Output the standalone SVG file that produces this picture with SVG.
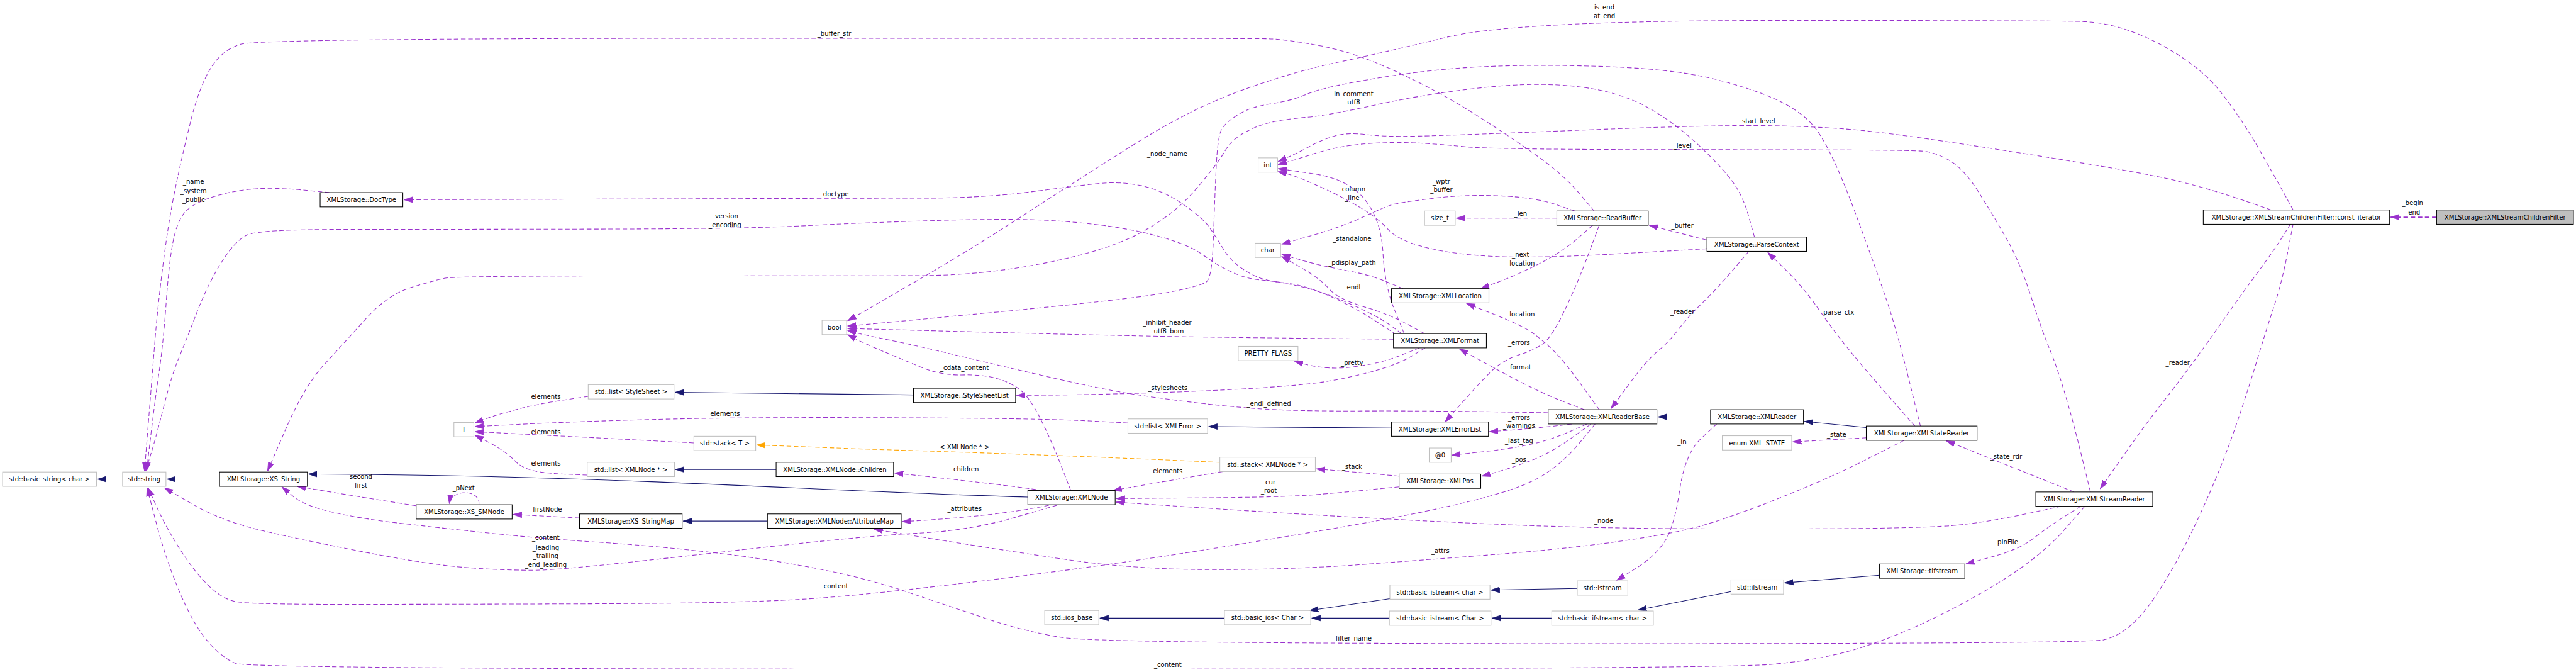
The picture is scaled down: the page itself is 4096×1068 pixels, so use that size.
<svg xmlns="http://www.w3.org/2000/svg" width="4096" height="1068" viewBox="0 0 4096 1068">
<style>
text{font-family:"DejaVu Sans","Liberation Sans",sans-serif;font-size:12.5px;text-anchor:middle;fill:#000}
.e{fill:none;stroke:#9a32cd;stroke-width:1.3;stroke-dasharray:9,5}
.eb{fill:none;stroke:#9a32cd;stroke-width:2.2;stroke-dasharray:9,5}
.i{fill:none;stroke:#191970;stroke-width:1.3}
.o{fill:none;stroke:#ffa500;stroke-width:1.3;stroke-dasharray:9,5}
.n rect{fill:#fff;stroke:#000;stroke-width:1.3}
.g rect{fill:#fff;stroke:#bfbfbf;stroke-width:1.3}
.e,.eb{marker-end:url(#aP)}
.i{marker-end:url(#aN)}
.o{marker-end:url(#aO)}
</style>
<defs>
<marker id="aP" markerUnits="userSpaceOnUse" markerWidth="18" markerHeight="13" refX="17" refY="6.5" orient="auto"><path d="M0,1 L17,6.5 L0,12 z" fill="#9a32cd" stroke="#9a32cd" stroke-width="1"/></marker>
<marker id="aN" markerUnits="userSpaceOnUse" markerWidth="18" markerHeight="13" refX="17" refY="6.5" orient="auto"><path d="M0,1 L17,6.5 L0,12 z" fill="#191970" stroke="#191970" stroke-width="1"/></marker>
<marker id="aO" markerUnits="userSpaceOnUse" markerWidth="18" markerHeight="13" refX="17" refY="6.5" orient="auto"><path d="M0,1 L17,6.5 L0,12 z" fill="#ffa500" stroke="#ffa500" stroke-width="1"/></marker>
</defs>
<rect x="0" y="0" width="4096" height="1068" fill="#fff"/>
<g transform="scale(0.8119)">
<g id="edges">
<path class="eb" d="M4772,425 L4682,425"/>
<path class="e" d="M4491,411 L4472,376.5 Q4453,342 4421,286.5 Q4389,231 4348.5,179.5 Q4308,128 4229,86 Q4150,44 4075,42 Q4000,40 3485,40 Q2970,40 2835,72.5 Q2700,105 2615,123 Q2530,141 2430,177.5 Q2330,214 2222,282 Q2114,350 2005.5,420.5 Q1897,491 1798.5,548 Q1700,605 1680,616.5 L1660,628"/>
<path class="e" d="M4448,411 L4391.5,391.5 Q4335,372 4267.5,355 Q4200,338 3969.5,301.5 Q3739,265 3658,256.5 Q3577,248 3468.5,246 Q3360,244 3102.5,254.5 Q2845,265 2777.5,266.5 Q2710,268 2674.5,263.5 Q2639,259 2614.5,266 Q2590,273 2565,286.5 Q2540,300 2521.5,308 L2503,316"/>
<path class="e" d="M4094,963 L4076.5,891.5 Q4059,820 4043,767 Q4027,714 4013.5,682 Q4000,650 3978,581.5 Q3956,513 3929,466 Q3902,419 3875,376 Q3848,333 3821,316 Q3794,299 3767,296 Q3740,293 3333,293 Q2926,293 2872,287.5 Q2818,282 2777.5,280 Q2737,278 2696,280 Q2655,282 2622.5,288.5 Q2590,295 2565,303.5 Q2540,312 2521.5,317 L2503,322"/>
<path class="e" d="M4486,438 L4469.5,464.5 Q4453,491 4421,534 Q4389,577 4356.5,623.5 Q4324,670 4294.5,710 Q4265,750 4232.5,791.5 Q4200,833 4156.5,895 L4113,957"/>
<path class="e" d="M4491,438 L4480,495.5 Q4469,553 4453,601.5 Q4437,650 4421,703 Q4405,756 4383.5,820 Q4362,884 4335,947.5 Q4308,1011 4281,1064 Q4254,1117 4227,1158.5 Q4200,1200 4175,1222.5 Q4150,1245 4120,1252.5 Q4090,1260 3123.5,1260 Q2157,1260 2081,1248 Q2005,1236 1924,1208.5 Q1843,1181 1766.5,1155.5 Q1690,1130 1590,1111 Q1490,1092 1382,1080 Q1274,1068 1165.5,1061 Q1057,1054 953.5,1043 Q850,1032 777.5,1023.5 Q705,1015 650.5,1002.5 Q596,990 574,971.5 L552,953"/>
<path class="e" d="M4062,963 L3812,863"/>
<path class="e" d="M4075,991 L4042.5,1011.5 Q4010,1032 3983,1053.5 Q3956,1075 3903,1089.5 L3850,1104"/>
<path class="e" d="M4083,991 L4046.5,1033 Q4010,1075 3956,1113 Q3902,1151 3820.5,1193.5 Q3739,1236 3658,1263.5 Q3577,1291 3468.5,1300.5 Q3360,1310 1924,1310 Q488,1310 461,1298.5 Q434,1287 406.5,1255 Q379,1223 352,1159.5 Q325,1096 306.5,1025.5 L288,955"/>
<path class="e" d="M4037,991 L3969.5,1005.5 Q3902,1020 3842.5,1027 Q3783,1034 3571.5,1035 Q3360,1036 3211,1034 Q3062,1032 2926.5,1026 Q2791,1020 2655.5,1012.5 Q2520,1005 2353,994 L2186,983"/>
<path class="e" d="M3750,834 L3700,777 Q3650,720 3621.5,685 Q3593,650 3561.5,605 Q3530,560 3496,527 L3462,494"/>
<path class="e" d="M3655,857 L3511,865"/>
<path class="e" d="M3761,834 L3739.5,747 Q3718,660 3701.5,608 Q3685,556 3636,423.5 Q3587,291 3554.5,250 Q3522,209 3446,181.5 Q3370,154 3297.5,143 Q3225,132 3103,129 Q2981,126 2886,131.5 Q2791,137 2690.5,154 Q2590,171 2560,184 Q2530,197 2490,203 Q2450,209 2425.5,224 Q2401,239 2393,252 Q2385,265 2382,325 Q2379,385 2376.5,464 Q2374,543 2363,551.5 Q2352,560 2287,572.5 Q2222,585 1961,610 Q1700,635 1680,636.5 L1660,638"/>
<path class="e" d="M3729,862 L3653,900.5 Q3577,939 3473.5,979.5 Q3370,1020 3316,1033.5 Q3262,1047 3162,1061 Q3062,1075 2926.5,1085.5 Q2791,1096 2660.5,1105.5 Q2530,1115 2376,1115 Q2222,1115 2086.5,1095 Q1951,1075 1831.5,1055.5 L1712,1036"/>
<path class="e" d="M3362,830 L3331,859 Q3300,888 3289.5,960 Q3279,1032 3259.5,1061 Q3240,1090 3203,1113 L3166,1136"/>
<path class="e" d="M3425,492 L3392.5,530 Q3360,568 3333,594 Q3306,620 3287,645 Q3268,670 3246.5,687.5 Q3225,705 3190,752.5 L3155,800"/>
<path class="e" d="M3103,802 L3055.5,783.5 Q3008,765 2933,724 L2858,683"/>
<path class="e" d="M3078,830 Q3008,839 2917,845"/>
<path class="e" d="M3108,830 L3071.5,846 Q3035,862 2994.5,870.5 Q2954,879 2898.5,885 L2843,891"/>
<path class="e" d="M3116,830 L3075.5,859 Q3035,888 2994.5,903 Q2954,918 2928,925 L2902,932"/>
<path class="e" d="M3124,830 L3093,867.5 Q3062,905 3021.5,930.5 Q2981,956 2886,979.5 Q2791,1003 2660.5,1026 Q2530,1049 2349,1078 Q2168,1107 1929,1136.5 Q1690,1166 1563,1173.5 Q1436,1181 1143,1182 Q850,1183 669,1183 Q488,1183 461,1177.5 Q434,1172 406.5,1144.5 Q379,1117 352,1074.5 Q325,1032 307.5,993.5 L290,955"/>
<path class="e" d="M3032,808 L2911.5,806 Q2791,804 2660.5,804.5 Q2530,805 2457.5,799.5 Q2385,794 2303.5,783.5 Q2222,773 2168,762.5 Q2114,752 2032.5,733 Q1951,714 1869.5,694.5 Q1788,675 1739,665 Q1690,655 1675,651 L1660,647"/>
<path class="e" d="M3132,802 L3097,753.5 Q3062,705 3041,685 Q3020,665 3000.5,651 Q2981,637 2926.5,615.5 L2872,594"/>
<path class="e" d="M3132,441 L3110.5,498.5 Q3089,556 3064.5,607 Q3040,658 3024,671 Q3008,684 2975.5,694.5 Q2943,705 2921,726.5 Q2899,748 2864.5,787 L2830,826"/>
<path class="e" d="M3119,441 L3090.5,466 Q3062,491 3021.5,512.5 Q2981,534 2940.5,549.5 L2900,565"/>
<path class="e" d="M3343,487 L3175.5,496.5 Q3008,506 2926.5,502 Q2845,498 2791,484 Q2737,470 2718,448.5 Q2699,427 2663.5,406 Q2628,385 2584,365 Q2540,345 2521.5,340.5 L2503,336"/>
<path class="e" d="M3084,413 L3046,400 Q3008,387 2940,383.5 Q2872,380 2804.5,388.5 Q2737,397 2723.5,401.5 Q2710,406 2669,425 Q2628,444 2569,461 L2510,478"/>
<path class="e" d="M3049,427 L2852,427"/>
<path class="e" d="M3343,470 L3230,441"/>
<path class="e" d="M2748,565 L2715.5,551.5 Q2683,538 2636.5,529.5 Q2590,521 2550,509.5 L2510,498"/>
<path class="e" d="M2750,653 L2731,606.5 Q2712,560 2708.5,495 Q2705,430 2672.5,390 Q2640,350 2571.5,340 L2503,330"/>
<path class="e" d="M2790,653 L2755,634 Q2720,615 2670,600 Q2620,585 2602.5,565 Q2585,545 2547.5,523.5 L2510,502"/>
<path class="e" d="M2729,664 L2629.5,663 Q2530,662 2376,660 Q2222,658 1941,650.5 L1660,643"/>
<path class="e" d="M2745,653 L2722.5,636.5 Q2700,620 2650,597.5 Q2600,575 2565,565.5 Q2530,556 2498,551.5 Q2466,547 2439,530 Q2412,513 2398.5,491.5 Q2385,470 2371,448.5 Q2357,427 2316.5,399.5 Q2276,372 2235.5,363.5 Q2195,355 2154.5,359 Q2114,363 2019,375.5 Q1924,388 1802,388 Q1680,388 1235.5,389.5 L791,391"/>
<path class="e" d="M2735,655 L2692.5,627.5 Q2650,600 2605,580 Q2560,560 2525,555 Q2490,550 2464.5,547.5 Q2439,545 2412,532.5 Q2385,520 2357.5,500 Q2330,480 2276,464.5 Q2222,449 2154.5,440.5 Q2087,432 2019,430 Q1951,428 1820.5,432 Q1690,436 1574,442 Q1458,448 1154,448.5 Q850,449 679.5,449 Q509,449 485,459.5 Q461,470 434,513 Q407,556 385,613 Q363,670 349.5,702.5 Q336,735 320,798.5 Q304,862 294.5,892 L285,922"/>
<path class="e" d="M645,377 L593.5,372 Q542,367 501.5,369.5 Q461,372 420,384.5 Q379,397 363,414.5 Q347,432 339,472.5 Q331,513 325.5,591.5 Q320,670 312,725 Q304,780 295.5,851 L287,922"/>
<path class="e" d="M3122,413 L3092,377.5 Q3062,342 3008,303.5 Q2954,265 2886,222 Q2818,179 2736.5,141 Q2655,103 2587.5,90 Q2520,77 2485,76 Q2450,75 1479.5,75 Q509,75 471.5,86.5 Q434,98 412,134.5 Q390,171 374,235 Q358,299 344.5,363 Q331,427 320,512.5 Q309,598 303.5,666.5 Q298,735 290.5,828.5 L283,922"/>
<path class="e" d="M3436,464 L3425,424.5 Q3414,385 3394.5,357.5 Q3375,330 3327,284.5 Q3279,239 3224.5,209 Q3170,179 3089,169.5 Q3008,160 2899.5,172 Q2791,184 2696,205 Q2601,226 2560.5,229.5 Q2520,233 2493,238.5 Q2466,244 2439,258.5 Q2412,273 2398.5,296.5 Q2385,320 2342.5,370 Q2300,420 2234,455.5 Q2168,491 2046,515 Q1924,539 1803.5,539.5 Q1683,540 1288.5,540 Q894,540 872,544.5 Q850,549 804.5,563 Q759,577 717,623.5 Q675,670 635.5,713 Q596,756 560,839 L524,922"/>
<path class="e" d="M2791,681 L2764,697.5 Q2737,714 2682.5,728.5 Q2628,743 2579,749.5 Q2530,756 2430,761.5 Q2330,767 2222,770 Q2114,773 2052.5,773.5 L1991,774"/>
<path class="e" d="M2780,681 L2745,695 Q2710,709 2669,715.5 Q2628,722 2601,720 Q2574,718 2554.5,712.5 L2535,707"/>
<path class="e" d="M2740,932 Q2655,924 2578,918"/>
<path class="e" d="M2740,953 L2684,958.5 Q2628,964 2574,968.5 Q2520,973 2353,974.5 L2186,976"/>
<path class="e" d="M2395,923 Q2276,943 2180,960"/>
<path class="e" d="M2043,960 Q1951,947 1752,926"/>
<path class="e" d="M2054,989 Q1951,1011 1767,1021"/>
<path class="e" d="M2097,960 L2078,911 Q2059,862 2037.5,819.5 Q2016,777 1997,762.5 Q1978,748 1951,740.5 Q1924,733 1883.5,734 Q1843,735 1802,718 Q1761,701 1725.5,686 Q1690,671 1675,663 L1660,655"/>
<path class="e" d="M2070,989 L1983.5,1014 Q1897,1039 1793.5,1044 Q1690,1049 1400.5,1082 Q1111,1115 1057,1116 Q1003,1117 926.5,1112 Q850,1107 723,1082.5 Q596,1058 515,1039 Q434,1020 378,987.5 L322,955"/>
<path class="e" d="M815,990 Q705,973 582,952"/>
<path class="e" d="M938,988 C942,958 884,956 880,986"/>
<path class="e" d="M1135,1014 L1005,1007"/>
<path class="e" d="M1152,776 L1104.5,783 Q1057,790 1016,800.5 Q975,811 952.5,819.5 L930,828"/>
<path class="e" d="M2209,828 L2134,824 Q2059,820 1874.5,818.5 Q1690,817 1536,817.5 Q1382,818 1246.5,822 Q1111,826 1020.5,830.5 L930,835"/>
<path class="e" d="M1359,867 Q1111,854 930,845"/>
<path class="e" d="M1150,930 L1103.5,928 Q1057,926 1038,919.5 Q1019,913 1011,904.5 Q1003,896 989,885.5 Q975,875 952.5,863.5 L930,852"/>
<path class="o" d="M2389,905 Q2059,890 1690,879 L1482,871"/>
<path class="i" d="M240,938 L191,938"/>
<path class="i" d="M430,938 L327,938"/>
<path class="i" d="M2013,973 C1600,962 1200,930 604,928"/>
<path class="i" d="M1789,773 L1322,768"/>
<path class="i" d="M1520,919 L1323,919"/>
<path class="i" d="M1503,1020 L1338,1020"/>
<path class="i" d="M2725,838 L2367,835"/>
<path class="i" d="M3350,816 L3247,816"/>
<path class="i" d="M3655,837 L3534,825"/>
<path class="i" d="M3681,1126 L3495,1141"/>
<path class="i" d="M3390,1158 L3208,1194"/>
<path class="i" d="M3089,1152 L2920,1155"/>
<path class="i" d="M2722,1172 L2565,1195"/>
<path class="i" d="M2721,1210 L2569,1210"/>
<path class="i" d="M3039,1210 L2922,1210"/>
<path class="i" d="M2398,1210 L2154,1210"/>
<g id="edge-labels">
<text x="4725" y="402">_begin</text><text x="4725" y="420">_end</text>
<text x="3139" y="18">_is_end</text><text x="3139" y="36">_at_end</text>
<text x="3441" y="241">_start_level</text>
<text x="3295" y="289">_level</text>
<text x="4265" y="714">_reader</text>
<text x="2648" y="1254">_filter_name</text>
<text x="3929" y="898">_state_rdr</text>
<text x="3929" y="1066">_pInFile</text>
<text x="2287" y="1306">_content</text>
<text x="3141" y="1023">_node</text>
<text x="3598" y="616">_parse_ctx</text>
<text x="3597" y="855">_state</text>
<text x="2648" y="188">_in_comment</text><text x="2648" y="205">_utf8</text>
<text x="2821" y="1083">_attrs</text>
<text x="3294" y="870">_in</text>
<text x="3295" y="614">_reader</text>
<text x="2975" y="723">_format</text>
<text x="2975" y="821">_errors</text><text x="2975" y="838">_warnings</text>
<text x="2975" y="867">_last_tag</text>
<text x="2975" y="904">_pos</text>
<text x="1634" y="1152">_content</text>
<text x="2485" y="794">_endl_defined</text>
<text x="2978" y="620">_location</text>
<text x="2975" y="675">_errors</text>
<text x="2978" y="503">_next</text><text x="2978" y="520">_location</text>
<text x="2648" y="374">_column</text><text x="2648" y="392">_line</text>
<text x="2823" y="360">_wptr</text><text x="2823" y="376">_buffer</text>
<text x="2978" y="423">_len</text>
<text x="3295" y="446">_buffer</text>
<text x="2648" y="519">_pdisplay_path</text>
<text x="2648" y="472">_standalone</text>
<text x="2648" y="567">_endl</text>
<text x="2286" y="636">_inhibit_header</text><text x="2286" y="653">_utf8_bom</text>
<text x="1634" y="384">_doctype</text>
<text x="1420" y="428">_version</text><text x="1420" y="445">_encoding</text>
<text x="379" y="360">_name</text><text x="379" y="378">_system</text><text x="379" y="395">_public</text>
<text x="1634" y="70">_buffer_str</text>
<text x="2286" y="306">_node_name</text>
<text x="2287" y="764">_stylesheets</text>
<text x="2648" y="714">_pretty</text>
<text x="2648" y="917">_stack</text>
<text x="2485" y="948">_cur</text><text x="2485" y="965">_root</text>
<text x="2287" y="926">elements</text>
<text x="1889" y="923">_children</text>
<text x="1889" y="1000">_attributes</text>
<text x="1889" y="724">_cdata_content</text>
<text x="1069" y="1057">_content</text><text x="1069" y="1076">_leading</text><text x="1069" y="1093">_trailing</text><text x="1069" y="1110">_end_leading</text>
<text x="707" y="937">second</text><text x="707" y="954">first</text>
<text x="908" y="959">_pNext</text>
<text x="1069" y="1001">_firstNode</text>
<text x="1069" y="781">elements</text>
<text x="1420" y="814">elements</text>
<text x="1069" y="850">elements</text>
<text x="1069" y="911">elements</text>
<text x="1889" y="879">&lt; XMLNode * &gt;</text>
</g>
</g>
<g id="nodes">
<g id="n-filter" class="n"><rect x="4772" y="411" width="268" height="28" style="fill:#bfbfbf"/><text x="4906" y="429.5">XMLStorage::XMLStreamChildrenFilter</text></g>
<g id="n-citer" class="n"><rect x="4315" y="411" width="365" height="28"/><text x="4497.5" y="429.5">XMLStorage::XMLStreamChildrenFilter::const_iterator</text></g>
<g id="n-bool" class="g"><rect x="1610" y="627" width="48" height="28"/><text x="1634" y="645.5">bool</text></g>
<g id="n-int" class="g"><rect x="2464" y="309" width="38" height="28"/><text x="2483" y="327.5">int</text></g>
<g id="n-char" class="g"><rect x="2458" y="476" width="50" height="28"/><text x="2483" y="494.5">char</text></g>
<g id="n-size_t" class="g"><rect x="2790" y="413" width="60" height="28"/><text x="2820" y="431.5">size_t</text></g>
<g id="n-readbuffer" class="n"><rect x="3049" y="413" width="179" height="28"/><text x="3138.5" y="431.5">XMLStorage::ReadBuffer</text></g>
<g id="n-xmllocation" class="n"><rect x="2725" y="565" width="191" height="28"/><text x="2820.5" y="583.5">XMLStorage::XMLLocation</text></g>
<g id="n-parsecontext" class="n"><rect x="3343" y="464" width="195" height="28"/><text x="3440.5" y="482.5">XMLStorage::ParseContext</text></g>
<g id="n-doctype" class="n"><rect x="627" y="377" width="162" height="28"/><text x="708" y="395.5">XMLStorage::DocType</text></g>
<g id="n-xmlformat" class="n"><rect x="2729" y="653" width="182" height="28"/><text x="2820" y="671.5">XMLStorage::XMLFormat</text></g>
<g id="n-pretty" class="g"><rect x="2425" y="678" width="117" height="28"/><text x="2483.5" y="696.5">PRETTY_FLAGS</text></g>
<g id="n-stylesheetlist" class="n"><rect x="1789" y="760" width="200" height="28"/><text x="1889" y="778.5">XMLStorage::StyleSheetList</text></g>
<g id="n-list-stylesheet" class="g"><rect x="1152" y="753" width="168" height="28"/><text x="1236" y="771.5">std::list&lt; StyleSheet &gt;</text></g>
<g id="n-T" class="g"><rect x="889" y="827" width="39" height="28"/><text x="908.5" y="845.5">T</text></g>
<g id="n-stack-T" class="g"><rect x="1359" y="854" width="121" height="28"/><text x="1419.5" y="872.5">std::stack&lt; T &gt;</text></g>
<g id="n-list-xmlerror" class="g"><rect x="2209" y="820" width="156" height="28"/><text x="2287" y="838.5">std::list&lt; XMLError &gt;</text></g>
<g id="n-xmlerrorlist" class="n"><rect x="2725" y="826" width="190" height="28"/><text x="2820" y="844.5">XMLStorage::XMLErrorList</text></g>
<g id="n-xmlreaderbase" class="n"><rect x="3032" y="802" width="213" height="28"/><text x="3138.5" y="820.5">XMLStorage::XMLReaderBase</text></g>
<g id="n-xmlreader" class="n"><rect x="3350" y="802" width="182" height="28"/><text x="3441" y="820.5">XMLStorage::XMLReader</text></g>
<g id="n-xml-state" class="g"><rect x="3373" y="853" width="136" height="28"/><text x="3441" y="871.5">enum XML_STATE</text></g>
<g id="n-xmlstatereader" class="n"><rect x="3655" y="834" width="217" height="28"/><text x="3763.5" y="852.5">XMLStorage::XMLStateReader</text></g>
<g id="n-at0" class="g"><rect x="2799" y="877" width="43" height="28"/><text x="2820.5" y="895.5">@0</text></g>
<g id="n-stack-xmlnode" class="g"><rect x="2389" y="895" width="187" height="28"/><text x="2482.5" y="913.5">std::stack&lt; XMLNode * &gt;</text></g>
<g id="n-xmlpos" class="n"><rect x="2740" y="928" width="160" height="28"/><text x="2820" y="946.5">XMLStorage::XMLPos</text></g>
<g id="n-list-xmlnode" class="g"><rect x="1150" y="905" width="171" height="28"/><text x="1235.5" y="923.5">std::list&lt; XMLNode * &gt;</text></g>
<g id="n-children" class="n"><rect x="1520" y="905" width="230" height="28"/><text x="1635" y="923.5">XMLStorage::XMLNode::Children</text></g>
<g id="n-xmlnode" class="n"><rect x="2013" y="960" width="171" height="28"/><text x="2098.5" y="978.5">XMLStorage::XMLNode</text></g>
<g id="n-xs-smnode" class="n"><rect x="815" y="988" width="188" height="28"/><text x="909" y="1006.5">XMLStorage::XS_SMNode</text></g>
<g id="n-xs-stringmap" class="n"><rect x="1135" y="1006" width="201" height="28"/><text x="1235.5" y="1024.5">XMLStorage::XS_StringMap</text></g>
<g id="n-attributemap" class="n"><rect x="1503" y="1006" width="262" height="28"/><text x="1634" y="1024.5">XMLStorage::XMLNode::AttributeMap</text></g>
<g id="n-basic-string" class="g"><rect x="5" y="924" width="184" height="28"/><text x="97" y="942.5">std::basic_string&lt; char &gt;</text></g>
<g id="n-string" class="g"><rect x="240" y="924" width="85" height="28"/><text x="282.5" y="942.5">std::string</text></g>
<g id="n-xs-string" class="n"><rect x="430" y="924" width="172" height="28"/><text x="516" y="942.5">XMLStorage::XS_String</text></g>
<g id="n-xmlstreamreader" class="n"><rect x="3987" y="963" width="229" height="28"/><text x="4101.5" y="981.5">XMLStorage::XMLStreamReader</text></g>
<g id="n-tifstream" class="n"><rect x="3681" y="1104" width="167" height="28"/><text x="3764.5" y="1122.5">XMLStorage::tifstream</text></g>
<g id="n-ifstream" class="g"><rect x="3390" y="1135" width="103" height="28"/><text x="3441.5" y="1153.5">std::ifstream</text></g>
<g id="n-istream" class="g"><rect x="3089" y="1137" width="99" height="28"/><text x="3138.5" y="1155.5">std::istream</text></g>
<g id="n-basic-istream-char" class="g"><rect x="2722" y="1145" width="196" height="28"/><text x="2820" y="1163.5">std::basic_istream&lt; char &gt;</text></g>
<g id="n-basic-istream-Char" class="g"><rect x="2721" y="1196" width="199" height="28"/><text x="2820.5" y="1214.5">std::basic_istream&lt; Char &gt;</text></g>
<g id="n-basic-ifstream" class="g"><rect x="3039" y="1196" width="199" height="28"/><text x="3138.5" y="1214.5">std::basic_ifstream&lt; char &gt;</text></g>
<g id="n-basic-ios" class="g"><rect x="2398" y="1195" width="169" height="28"/><text x="2482.5" y="1213.5">std::basic_ios&lt; Char &gt;</text></g>
<g id="n-ios-base" class="g"><rect x="2046" y="1195" width="106" height="28"/><text x="2099" y="1213.5">std::ios_base</text></g>
</g>
</g>
</svg>
